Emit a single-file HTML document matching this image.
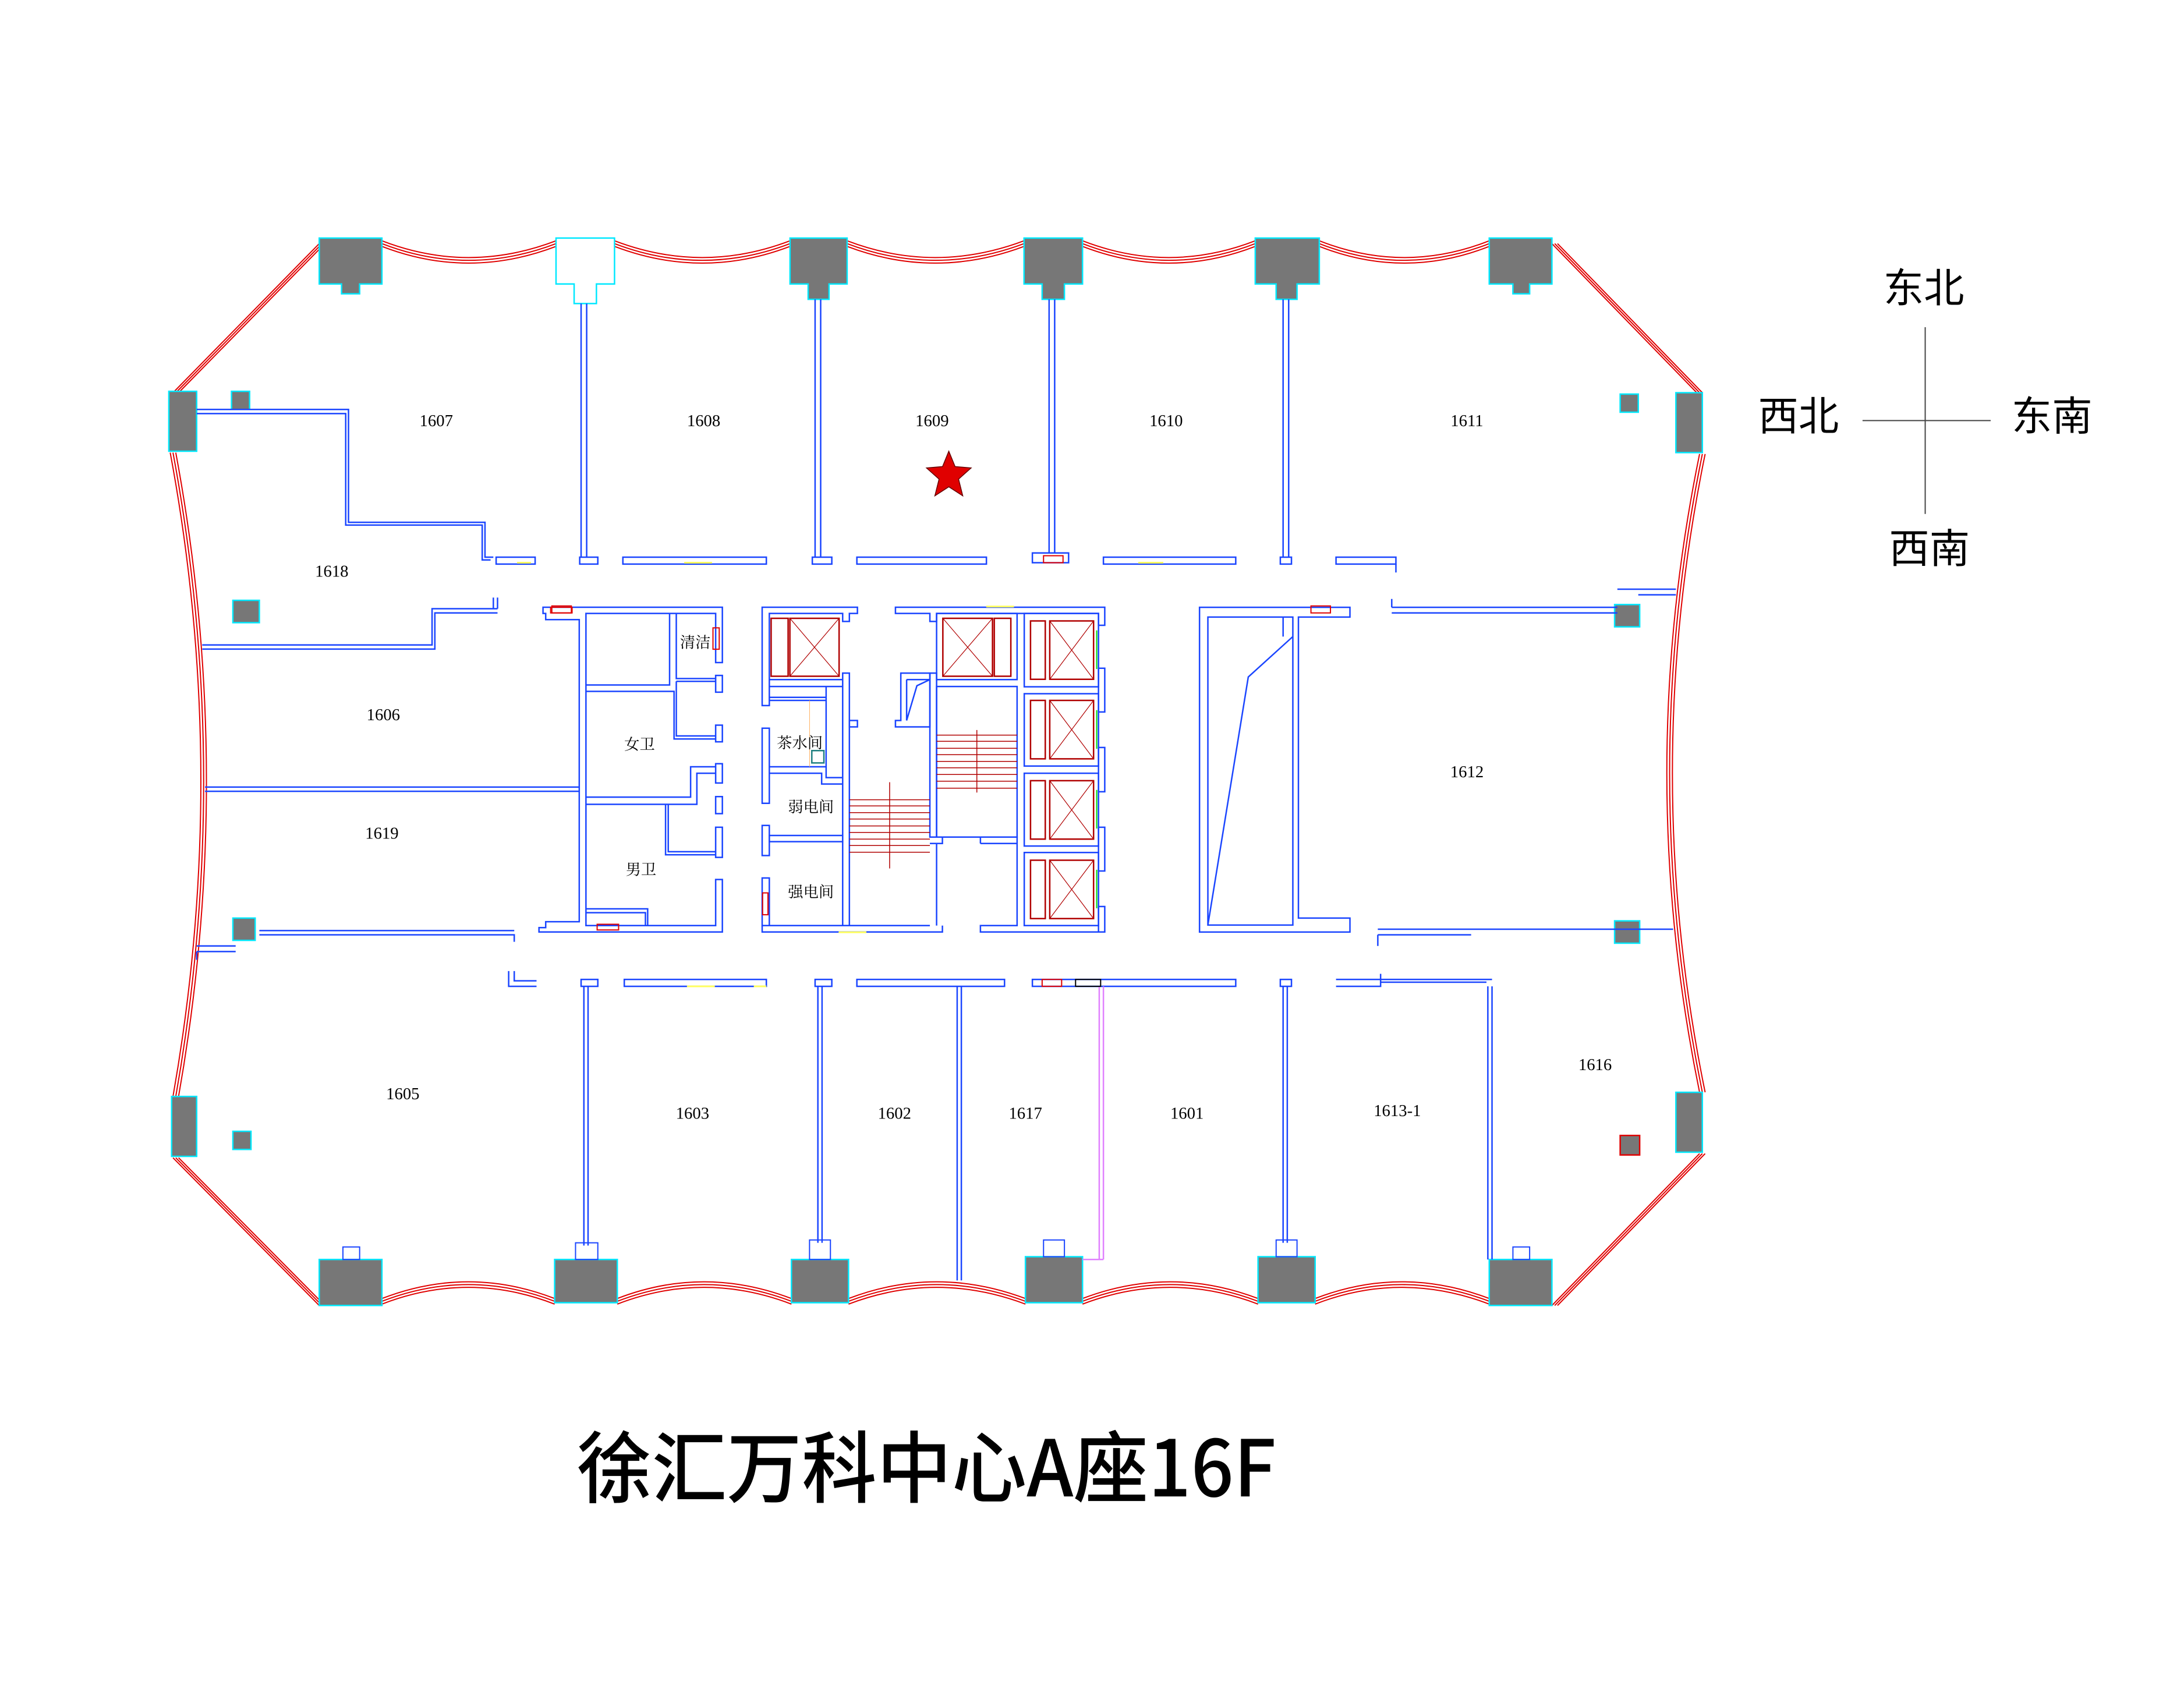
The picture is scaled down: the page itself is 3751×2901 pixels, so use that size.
<!DOCTYPE html>
<html><head><meta charset="utf-8"><style>
html,body{margin:0;padding:0;background:#fff;}
svg{display:block}
svg *{vector-effect:non-scaling-stroke}
.w{fill:none;stroke:#1a45ff;stroke-width:2.5}
.r{fill:none;stroke:#e00000;stroke-width:2}
.dr{fill:none;stroke:#b00000;stroke-width:2.5}
.c{fill:#777;stroke:#00e8ff;stroke-width:2.5}
.t{font-family:"Liberation Serif",serif;font-size:12px;fill:#000}
.k{font-family:"Liberation Serif","Noto Serif CJK SC",serif;font-size:11px;fill:#000}
</style></head><body>
<svg width="3751" height="2901" viewBox="-1.2 1.2 1568 1212" preserveAspectRatio="none" xmlns="http://www.w3.org/2000/svg">
<rect x="-10" y="-10" width="1600" height="1240" fill="#fff"/>
<g class="r">
<g id="gl">
<path d="M273,174 Q335,198 398,174"/><path d="M440,174 Q503,198 566,174"/><path d="M607,174 Q670,198 734,174"/><path d="M776,174 Q838,198 900,174"/><path d="M946,174 Q1007,198 1068,174"/>
<path d="M273,933 Q335,909 397,933"/><path d="M442,933 Q504,909 567,933"/><path d="M608,933 Q671,909 735,933"/><path d="M776,933 Q839,909 902,933"/><path d="M943,933 Q1005,909 1068,933"/>
</g>
<use href="#gl" transform="translate(0,2)"/><use href="#gl" transform="translate(0,4)"/>
<g id="sd">
<path d="M121,326 Q164,556 123,788"/><path d="M1219,327 Q1172,556 1219,785"/>
<path d="M228,176 L124,282"/><path d="M1113,176 L1217,283"/><path d="M123,832 L228,938"/><path d="M1219,829 L1113,938"/>
</g>
<use href="#sd" transform="translate(2,0)"/><use href="#sd" transform="translate(4,0)"/>
</g>
<g class="c">
<path d="M228,172 H273 V205 H257 V212 H244 V205 H228 Z"/>
<path d="M398,172 H440 V205 H427 V219 H411 V205 H398 Z" fill="#fff"/>
<path d="M566,172 H607 V205 H594 V216 H579 V205 H566 Z"/>
<path d="M734,172 H776 V205 H763 V216 H747 V205 H734 Z"/>
<path d="M900,172 H946 V205 H930 V216 H915 V205 H900 Z"/>
<path d="M1068,172 H1113 V205 H1097 V212 H1085 V205 H1068 Z"/>
<rect x="228" y="905" width="45" height="33"/><rect x="397" y="905" width="45" height="31"/><rect x="567" y="905" width="41" height="31"/><rect x="735" y="903" width="41" height="33"/><rect x="902" y="903" width="41" height="33"/><rect x="1068" y="905" width="45" height="33"/>
<rect x="120" y="282" width="20" height="43"/><rect x="122" y="788" width="18" height="43"/><rect x="1202" y="283" width="19" height="43"/><rect x="1202" y="785" width="19" height="43"/>
<rect x="165" y="282" width="13" height="13"/><rect x="166" y="432" width="19" height="16"/><rect x="166" y="660" width="16" height="16"/><rect x="166" y="813" width="13" height="13"/>
<rect x="1162" y="284" width="13" height="13"/><rect x="1158" y="435" width="18" height="16"/><rect x="1158" y="662" width="18" height="16"/><rect x="1162" y="816" width="14" height="14" stroke="#e00000"/>
</g>
<g fill="none" stroke="#1a45ff" stroke-width="2">
<rect x="245" y="896" width="12" height="9"/><rect x="412" y="893" width="16" height="12"/><rect x="580" y="891" width="15" height="14"/><rect x="748" y="891" width="15" height="12"/><rect x="915" y="891" width="15" height="12"/><rect x="1085" y="896" width="12" height="9"/>
</g>
<g class="w">
<path d="M416,219 V401 M420,219 V401 M584,216 V401 M588,216 V401 M752,216 V398 M756,216 V398 M920,216 V401 M924,216 V401"/>
<path d="M140,295 H249 V376 H347 V401 H353 M140,298 H247 V378 H345 V403 H351"/>
<path d="M144,464 H309 V438 H356 M144,467 H311 V441 H356 M353,430 V438 M356,430 V438"/>
<path d="M146,566 H415 M146,569 H415"/>
<path d="M185,669 H368 M185,672 H368 V677 M140,680 H168 M140,684 H168 M140,684 V690"/>
<path d="M998,437 H1160 M998,441 H1160 M998,431 V437 M1160,424 H1202 M1175,428 H1202"/>
<path d="M988,668 H1200 M988,672 H1055 M988,672 V680"/>
<rect x="355" y="401" width="28" height="5"/><rect x="415" y="401" width="13" height="5"/><rect x="446" y="401" width="103" height="5"/><rect x="582" y="401" width="14" height="5"/><rect x="614" y="401" width="93" height="5"/><rect x="740" y="398" width="26" height="7"/><rect x="791" y="401" width="95" height="5"/><rect x="918" y="401" width="8" height="5"/><rect x="958" y="401" width="43" height="5"/><path d="M1001,406 V412"/>
<path d="M364,698 V709 H384 M368,698 V705 H384"/><rect x="416" y="704" width="12" height="5"/><rect x="447" y="704" width="102" height="5"/><rect x="584" y="704" width="12" height="5"/><rect x="614" y="704" width="106" height="5"/><rect x="740" y="704" width="146" height="5"/><rect x="918" y="704" width="8" height="5"/><path d="M958,704 H1070 M958,709 H990 V700 M990,706 H1066"/>
<path d="M418,709 V895 M421,709 V895 M586,709 V893 M589,709 V893 M686,709 V920 M689,709 V920 M920,709 V893 M923,709 V893 M1067,709 V905 M1070,709 V905"/>
<path d="M788,709 V905 M791,709 V905 M776,905 H791" stroke="#e080ff"/>
<path d="M860,437 H968 V444 H931 V660 H968 V670 H860 Z"/>
<path d="M866,444 H927 V665 H866 Z M866,665 L895,487 L927,458"/>
<path d="M920,444 V458"/>
</g>
<g transform="translate(354.3,418.5) scale(0.3211,0.18464)">
<g class="w">
<path d="M107,100 H508 V315 H493 V124 H203 V1337 H493 V1158 H508 V1362 H98 V1345 H113 V1322 H188 V148 H113 V124 H107 Z"/>
<rect x="493" y="365" width="15" height="65"/><rect x="493" y="558" width="15" height="65"/><rect x="493" y="708" width="15" height="75"/><rect x="493" y="836" width="15" height="66"/><rect x="493" y="955" width="15" height="117"/>
<path d="M390,124 V402 H203 M405,124 V377 H493 M203,427 H400 V612 H493 M405,388 H493 M405,388 V600 H493"/>
<path d="M203,838 H437 V720 H493 M203,866 H451 V745 H493"/>
<path d="M381,866 V1062 H493 M387,866 V1050 H493"/>
<path d="M203,1272 H341 V1337 M203,1287 H336 V1337"/>
<path d="M597,100 H810 V124 H792 V155 H777 V124 H613 V482 H597 Z"/>
<path d="M613,381 H777"/>
<rect x="597" y="570" width="16" height="292"/><rect x="597" y="948" width="16" height="117"/><rect x="597" y="1152" width="16" height="185"/>
<path d="M597,1337 V1362 H1000 V1337 M613,1337 H777"/>
<rect x="777" y="356" width="15" height="981"/><rect x="792" y="540" width="18" height="25"/>
<path d="M613,408 H777 M613,450 H740 M613,462 H740 V720 H613 M740,408 V762 H777 M613,745 H730 V787 H777"/>
<rect x="613" y="987" width="164" height="24"/>
<path d="M792,1337 H972"/>
<rect x="972" y="356" width="15" height="637"/><path d="M972,1018 H987 V1337 M987,993 H1000 V1018 H987"/>
<path d="M907,356 H972 V565 H895 V540 H907 Z M920,381 H972 M920,381 V540 M920,540 L943,405 L972,381"/>
<path d="M895,100 H1363 V170 H1349 V124 H987 V155 H972 V124 H895 Z"/>
<rect x="987" y="124" width="180" height="257"/>
<rect x="987" y="408" width="180" height="585"/>
<path d="M1085,993 H1167 V1337 H1085 V1362 H1363 M1085,1018 H1167 M1085,993 V1018"/>
<rect x="1183" y="124" width="166" height="285"/><rect x="1183" y="436" width="166" height="281"/><rect x="1183" y="745" width="166" height="283"/><rect x="1183" y="1053" width="166" height="284"/>
<rect x="1349" y="337" width="14" height="170"/><rect x="1349" y="645" width="14" height="172"/><rect x="1349" y="955" width="14" height="170"/><rect x="1349" y="1263" width="14" height="99"/>
</g>
<g class="dr">
<rect x="617" y="143" width="38" height="225"/><rect x="659" y="143" width="110" height="225"/>
<path d="M659,143 L769,368 M769,143 L659,368" stroke-width="1.2"/>
<rect x="1001" y="143" width="111" height="225"/><rect x="1116" y="143" width="37" height="225"/>
<path d="M1001,143 L1112,368 M1112,143 L1001,368" stroke-width="1.2"/>
<g id="el"><rect x="1197" y="153" width="33" height="227"/><rect x="1240" y="153" width="98" height="227"/><path d="M1240,153 L1338,380 M1338,153 L1240,380" stroke-width="1.2"/></g>
<use href="#el" transform="translate(0,309)"/><use href="#el" transform="translate(0,621)"/><use href="#el" transform="translate(0,930)"/>
<path d="M792,848 H972 M792,872 H972 M792,898 H972 M792,923 H972 M792,950 H972 M792,975 H972 M792,1001 H972 M792,1026 H972 M792,1052 H972 M882,780 V1115" stroke-width="1.5"/>
<path d="M987,597 H1167 M987,621 H1167 M987,648 H1167 M987,673 H1167 M987,699 H1167 M987,724 H1167 M987,750 H1167 M987,776 H1167 M987,803 H1167 M1077,577 V820" stroke-width="1.5"/>
</g>
<path d="M1345,190 V340 M1345,500 V650 M1345,810 V960 M1345,1120 V1270" stroke="#00e000" stroke-width="2" fill="none"/>
<g fill="none" stroke="#e00000" stroke-width="2">
<rect x="487" y="180" width="14" height="83"/><rect x="228" y="1332" width="48" height="22"/><rect x="124" y="100" width="48" height="22"/><rect x="598" y="1210" width="12" height="85"/>
</g>
<rect x="708" y="657" width="27" height="48" fill="none" stroke="#208080" stroke-width="2.5"/>
<path d="M703,462 V720" stroke="#ffb060" stroke-width="1" fill="none"/>
<path d="M1098,97 H1160 M768,1363 H830" stroke="#ffff60" stroke-width="3"/>
</g>
<g fill="none" stroke="#e00000" stroke-width="2">
<rect x="395" y="436" width="14" height="5"/><rect x="940" y="436" width="14" height="5"/><rect x="748" y="400" width="14" height="5"/><rect x="747" y="704" width="14" height="5"/>
</g>
<rect x="771" y="704" width="18" height="5" fill="none" stroke="#000" stroke-width="2"/>
<g stroke="#ffff60" stroke-width="3"><path d="M370,405 H380 M490,405 H510 M816,405 H834 M492,709 H512 M540,709 H549"/></g>
<g class="t" text-anchor="middle">
<text x="312" y="307">1607</text><text x="504" y="307">1608</text><text x="668" y="307">1609</text><text x="836" y="307">1610</text><text x="1052" y="307">1611</text>
<text x="237" y="415">1618</text><text x="274" y="518">1606</text><text x="1052" y="559">1612</text><text x="273" y="603">1619</text>
<text x="288" y="790">1605</text><text x="496" y="804">1603</text><text x="641" y="804">1602</text><text x="735" y="804">1617</text><text x="851" y="804">1601</text><text x="1002" y="802">1613-1</text><text x="1144" y="769">1616</text>
</g>
<g class="k" text-anchor="middle">
<text x="498" y="466">清洁</text><text x="458" y="539">女卫</text><text x="459" y="629">男卫</text><text x="573" y="538">茶水间</text><text x="581" y="584">弱电间</text><text x="581" y="645">强电间</text>
</g>
<polygon points="680,325 684.5,336 696,337 687,345 690,357 680,350.5 670,357 673,345 664,337 675.5,336" fill="#e00000" stroke="#600" stroke-width="1.5"/>
<path d="M1381,236 V370 M1336,303 H1428" stroke="#444" stroke-width="2" fill="none"/>
<g font-family="'WenQuanYi Zen Hei','Noto Sans CJK SC',sans-serif" font-size="29" fill="#000" text-anchor="middle">
<text x="1380" y="218">东北</text><text x="1290" y="310">西北</text><text x="1472" y="310">东南</text><text x="1384" y="405">西南</text>
</g>
<text x="413" y="1075" font-family="'Noto Sans CJK SC','WenQuanYi Zen Hei',sans-serif" font-weight="500" font-size="56" fill="#000" textLength="502" lengthAdjust="spacingAndGlyphs">徐汇万科中心A座16F</text>
</svg>
</body></html>
